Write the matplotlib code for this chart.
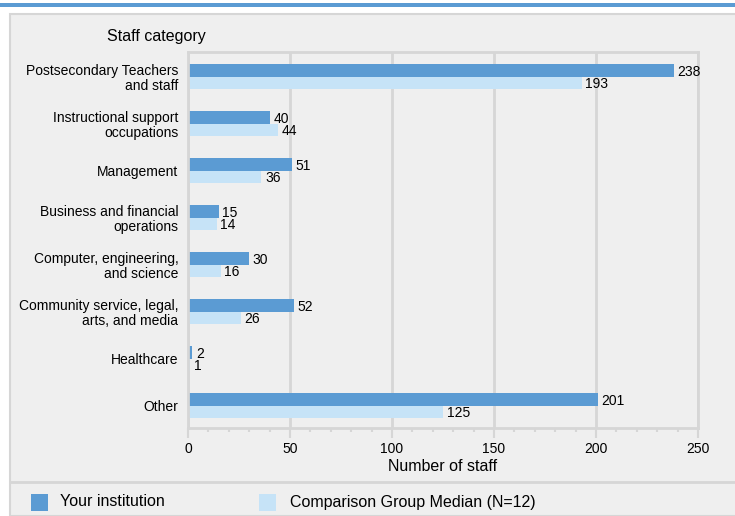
import numpy as np
import matplotlib.pyplot as plt
from matplotlib.patches import Rectangle

plt.rcParams['font.family'] = ['Liberation Sans', 'DejaVu Sans']

categories = ['Postsecondary Teachers\nand staff', 'Instructional support\noccupations',
              'Management', 'Business and financial\noperations',
              'Computer, engineering,\nand science', 'Community service, legal,\narts, and media',
              'Healthcare', 'Other']
yours = [238, 40, 51, 15, 30, 52, 2, 201]
median = [193, 44, 36, 14, 16, 26, 1, 125]

dark = '#5b9bd3'
light = '#c6e3f7'
bg = '#efefef'
grid_c = '#d6d6d6'

fig = plt.figure(figsize=(7.35, 5.16), dpi=100)
fig.patch.set_facecolor('white')

# top accent bar and grey panel
fig.patches.append(Rectangle((0, 1 - 7/516), 1, 4/516, transform=fig.transFigure,
                             facecolor=dark, edgecolor='none', zorder=-2))
fig.patches.append(Rectangle((10/735, 0), 1, (516-14)/516, transform=fig.transFigure,
                             facecolor=bg, edgecolor=grid_c, linewidth=1.5, zorder=-2))
fig.lines.append(plt.Line2D([10/735, 1], [1 - 482/516, 1 - 482/516], transform=fig.transFigure,
                            color=grid_c, linewidth=2, zorder=-1))

ax = fig.add_axes([188/735, 1 - 428/516, 510/735, 376/516])
ax.set_facecolor(bg)

y = np.arange(len(categories))
h = 0.266
ax.barh(y - h/2, yours, height=h, color=dark)
ax.barh(y + h/2, median, height=h, color=light)

for i in range(len(categories)):
    ax.text(yours[i] + 1.8, y[i] - h/2 + 0.02, str(yours[i]), va='center', ha='left', fontsize=10)
    ax.text(median[i] + 1.8, y[i] + h/2 + 0.02, str(median[i]), va='center', ha='left', fontsize=10)

ax.set_xlim(0, 250)
ax.set_ylim(len(categories) - 1 + 0.47, -0.53)
ax.set_yticks(y)
ax.set_yticklabels(categories, fontsize=10, linespacing=1.05)
ax.tick_params(axis='y', length=0, pad=7)
ax.set_xticks(np.arange(0, 251, 50))
ax.set_xticks(np.arange(0, 251, 10), minor=True)
ax.tick_params(axis='x', which='major', length=7, width=1.5, color=grid_c, labelsize=10, pad=3)
ax.tick_params(axis='x', which='minor', length=3, width=1.5, color=grid_c)
ax.xaxis.grid(True, color=grid_c, linewidth=2)
ax.set_axisbelow(True)
for s in ax.spines.values():
    s.set_color(grid_c)
    s.set_linewidth(2)
ax.set_xlabel('Number of staff', fontsize=11.5, labelpad=2)

fig.text(107/735, 1 - 37/516, 'Staff category', fontsize=11.5, va='center', ha='left')

# legend
fig.patches.append(Rectangle((31/735, 1 - 511/516), 17/735, 17/516, transform=fig.transFigure,
                             facecolor=dark, edgecolor='none'))
fig.text(60/735, 1 - 502/516, 'Your institution', fontsize=11.5, va='center')
fig.patches.append(Rectangle((259/735, 1 - 511/516), 17/735, 17/516, transform=fig.transFigure,
                             facecolor=light, edgecolor='none'))
fig.text(290/735, 1 - 502/516, 'Comparison Group Median (N=12)', fontsize=11.5, va='center')

plt.savefig('out.png', dpi=100, facecolor=fig.get_facecolor())
